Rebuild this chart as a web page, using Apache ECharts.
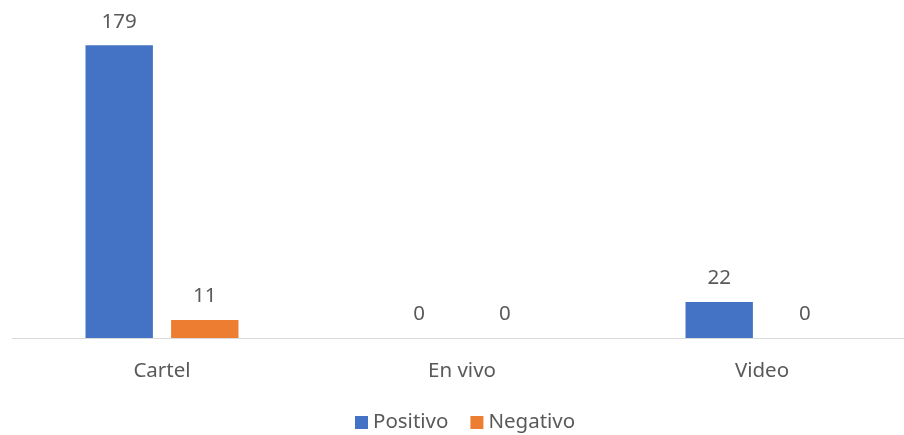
<!DOCTYPE html>
<html>
<head>
<meta charset="utf-8">
<script src="https://cdn.jsdelivr.net/npm/echarts@6/dist/echarts.min.js"></script>
<style>
  html, body { margin: 0; padding: 0; background: #ffffff; overflow: hidden; }
  #chart { width: 912px; height: 435px; }
</style>
</head>
<body>
<div id="chart"></div>
<script>
// Tipos de publicación y valoración
const categories = ['Cartel', 'En vivo', 'Video'];
const positivo = [179, 0, 22];
const negativo = [11, 0, 0];
const seriesNames = ['Positivo', 'Negativo'];

const FONT = 'Noto Sans';
const TEXT = '#595959';
const SIZE = 20.5;

const chart = echarts.init(document.getElementById('chart'));

const labelCfg = {
  show: true,
  position: 'top',
  distance: 13,
  color: TEXT,
  fontFamily: FONT,
  fontSize: SIZE
};

chart.setOption({
  animation: false,
  backgroundColor: '#ffffff',
  textStyle: { fontFamily: FONT },
  grid: { left: 12, top: 11, width: 900, height: 327, containLabel: false },
  legend: {
    data: seriesNames,
    top: 412,
    left: 355,
    padding: 0,
    itemWidth: 13,
    itemHeight: 13,
    itemGap: 22,
    icon: 'rect',
    textStyle: { color: TEXT, fontFamily: FONT, fontSize: SIZE }
  },
  xAxis: {
    type: 'category',
    data: categories,
    axisLine: { lineStyle: { color: '#d9d9d9', width: 1 } },
    axisTick: { show: false },
    axisLabel: { color: TEXT, fontFamily: FONT, fontSize: SIZE, margin: 23 }
  },
  yAxis: {
    type: 'value',
    min: 0,
    max: 200,
    show: false,
    splitLine: { show: false }
  },
  series: [
    {
      name: seriesNames[0],
      type: 'bar',
      data: positivo,
      barGap: '27%',
      barCategoryGap: '49%',
      itemStyle: { color: '#4472c4' },
      label: labelCfg
    },
    {
      name: seriesNames[1],
      type: 'bar',
      data: negativo,
      itemStyle: { color: '#ed7d31' },
      label: labelCfg
    }
  ]
});
</script>
</body>
</html>
